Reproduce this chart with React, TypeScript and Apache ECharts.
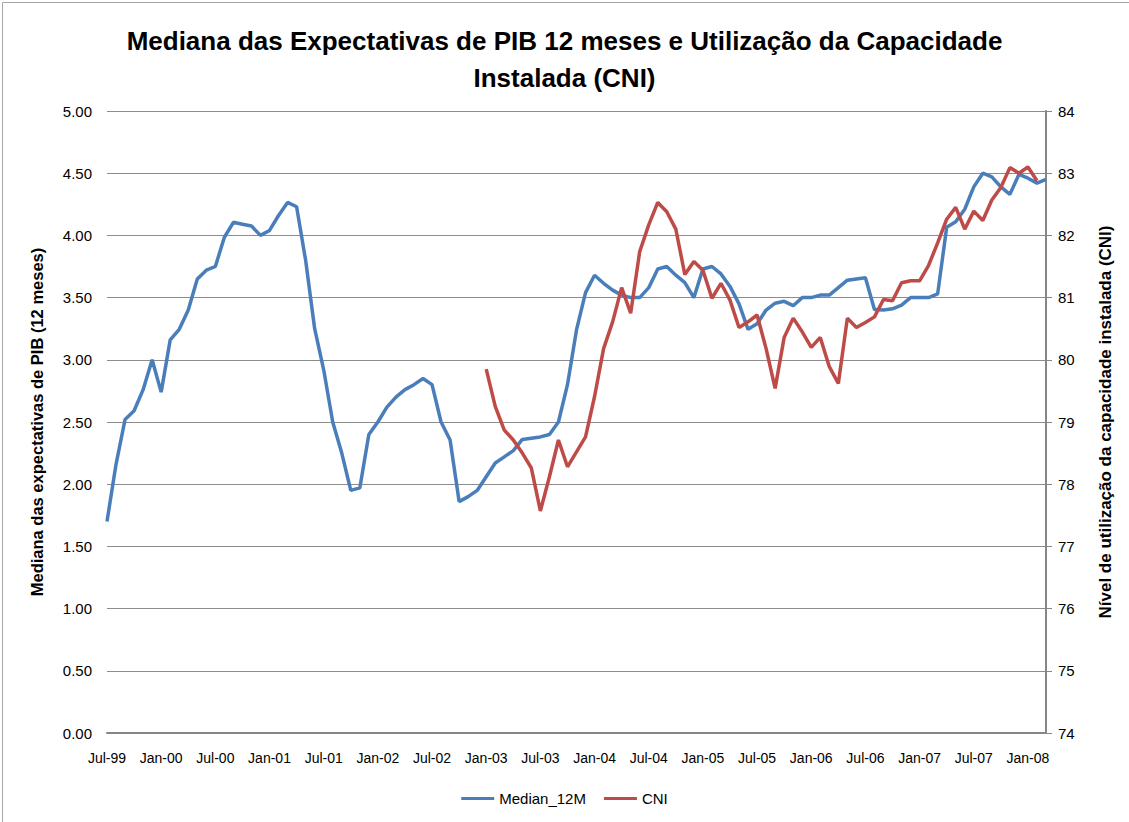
import React, { useEffect, useRef } from "react";
import * as echarts from "echarts";

const months: string[] = [
  "Jul-99","Aug-99","Sep-99","Oct-99","Nov-99","Dec-99",
  "Jan-00","Feb-00","Mar-00","Apr-00","May-00","Jun-00","Jul-00","Aug-00","Sep-00","Oct-00","Nov-00","Dec-00",
  "Jan-01","Feb-01","Mar-01","Apr-01","May-01","Jun-01","Jul-01","Aug-01","Sep-01","Oct-01","Nov-01","Dec-01",
  "Jan-02","Feb-02","Mar-02","Apr-02","May-02","Jun-02","Jul-02","Aug-02","Sep-02","Oct-02","Nov-02","Dec-02",
  "Jan-03","Feb-03","Mar-03","Apr-03","May-03","Jun-03","Jul-03","Aug-03","Sep-03","Oct-03","Nov-03","Dec-03",
  "Jan-04","Feb-04","Mar-04","Apr-04","May-04","Jun-04","Jul-04","Aug-04","Sep-04","Oct-04","Nov-04","Dec-04",
  "Jan-05","Feb-05","Mar-05","Apr-05","May-05","Jun-05","Jul-05","Aug-05","Sep-05","Oct-05","Nov-05","Dec-05",
  "Jan-06","Feb-06","Mar-06","Apr-06","May-06","Jun-06","Jul-06","Aug-06","Sep-06","Oct-06","Nov-06","Dec-06",
  "Jan-07","Feb-07","Mar-07","Apr-07","May-07","Jun-07","Jul-07","Aug-07","Sep-07","Oct-07","Nov-07","Dec-07",
  "Jan-08","Feb-08","Mar-08",
];

const median12M: number[] = [
  1.70, 2.16, 2.52, 2.59, 2.76, 3.00,
  2.74, 3.16, 3.245, 3.40, 3.65, 3.72, 3.75, 3.985, 4.105, 4.09, 4.075, 4.00,
  4.04, 4.16, 4.265, 4.23, 3.80, 3.25, 2.92, 2.50, 2.25, 1.95, 1.97, 2.40,
  2.50, 2.62, 2.70, 2.76, 2.80, 2.85, 2.80, 2.50, 2.355, 1.86, 1.90, 1.95,
  2.06, 2.17, 2.22, 2.27, 2.36, 2.37, 2.38, 2.40, 2.50, 2.80, 3.24, 3.54,
  3.68, 3.615, 3.56, 3.52, 3.50, 3.50, 3.58, 3.73, 3.75, 3.68, 3.62, 3.50,
  3.73, 3.75, 3.69, 3.59, 3.45, 3.245, 3.29, 3.40, 3.455, 3.47, 3.435, 3.50,
  3.50, 3.52, 3.52, 3.58, 3.64, 3.65, 3.66, 3.405, 3.40, 3.41, 3.44, 3.50,
  3.50, 3.50, 3.53, 4.065, 4.11, 4.21, 4.39, 4.50, 4.47, 4.39, 4.33, 4.49,
  4.46, 4.42, 4.45,
];

const cni: (number | null)[] = [
  null, null, null, null, null, null,
  null, null, null, null, null, null, null, null, null, null, null, null,
  null, null, null, null, null, null, null, null, null, null, null, null,
  null, null, null, null, null, null, null, null, null, null, null, null,
  79.85, 79.25, 78.87, 78.71, 78.50, 78.26, 77.57, 78.12, 78.71, 78.28, 78.52, 78.76,
  79.41, 80.18, 80.61, 81.16, 80.75, 81.74, 82.17, 82.53, 82.38, 82.10, 81.37, 81.58,
  81.44, 80.99, 81.23, 80.96, 80.52, 80.61, 80.72, 80.18, 79.54, 80.36, 80.67, 80.45,
  80.20, 80.36, 79.89, 79.62, 80.67, 80.52, 80.60, 80.69, 80.97, 80.95, 81.24, 81.27,
  81.27, 81.52, 81.88, 82.26, 82.45, 82.10, 82.39, 82.24, 82.57, 82.77, 83.09, 83.00,
  83.10, 82.88, null,
];

const seriesNames = ["Median_12M", "CNI"];
const titleText = "Mediana das Expectativas de PIB 12 meses e Utilização da Capacidade\nInstalada (CNI)";
const leftAxisName = "Mediana das expectativas de PIB (12 meses)";
const rightAxisName = "Nível de utilização da capacidade instalada (CNI)";

const FONT = "'Liberation Sans', Arial, sans-serif";

export default function App() {
  const ref = useRef<HTMLDivElement>(null);
  useEffect(() => {
    if (!ref.current) return;
    const chart = echarts.init(ref.current, undefined, { renderer: "svg" });
    chart.setOption({
      animation: false,
      backgroundColor: "#ffffff",
      textStyle: { fontFamily: FONT },
      title: {
        text: titleText,
        left: "center",
        top: 17,
        textStyle: {
          fontFamily: FONT,
          fontSize: 26,
          fontWeight: "bold",
          color: "#000",
          lineHeight: 37,
        },
      },
      graphic: [
        { type: "line", shape: { x1: 2.5, y1: 2.5, x2: 1129, y2: 2.5 }, style: { stroke: "#a6a6a6", lineWidth: 1 } },
        { type: "line", shape: { x1: 2.5, y1: 2.5, x2: 2.5, y2: 822 }, style: { stroke: "#a6a6a6", lineWidth: 1 } },
      ],
      legend: {
        bottom: 11,
        left: "center",
        icon: "rect",
        itemWidth: 33,
        itemHeight: 3,
        itemGap: 18,
        textStyle: { fontFamily: FONT, fontSize: 15, color: "#000" },
        data: seriesNames,
      },
      grid: { left: 107, right: 83, top: 111, bottom: 89, containLabel: false },
      xAxis: {
        type: "category",
        data: months,
        boundaryGap: false,
        axisLine: { show: true, lineStyle: { color: "#868686", width: 2 } },
        axisTick: { show: false },
        axisLabel: { interval: 5, margin: 18, fontFamily: FONT, fontSize: 14, color: "#000" },
        splitLine: { show: false },
      },
      yAxis: [
        {
          type: "value",
          min: 0,
          max: 5,
          interval: 0.5,
          position: "left",
          name: leftAxisName,
          nameLocation: "middle",
          nameRotate: 90,
          nameGap: 62,
          nameTextStyle: { fontFamily: FONT, fontSize: 16.5, fontWeight: "bold", color: "#000" },
          axisLine: { show: false },
          axisTick: { show: false },
          axisLabel: { margin: 15, fontFamily: FONT, fontSize: 15, color: "#000", formatter: (v: number) => v.toFixed(2) },
          splitLine: { show: true, lineStyle: { color: "#8c8c8c", width: 1 } },
        },
        {
          type: "value",
          min: 74,
          max: 84,
          interval: 1,
          position: "right",
          name: rightAxisName,
          nameLocation: "middle",
          nameRotate: 90,
          nameGap: 51,
          nameTextStyle: { fontFamily: FONT, fontSize: 17, fontWeight: "bold", color: "#000" },
          axisLine: { show: true, lineStyle: { color: "#868686", width: 2 } },
          axisTick: { show: true, inside: false, length: 6, lineStyle: { color: "#868686", width: 1 } },
          axisLabel: { margin: 12, fontFamily: FONT, fontSize: 15, color: "#000" },
          splitLine: { show: false },
        },
      ],
      series: [
        {
          name: seriesNames[0],
          type: "line",
          yAxisIndex: 0,
          data: median12M,
          symbol: "none",
          lineStyle: { color: "#4a7ebb", width: 3.5 },
          itemStyle: { color: "#4a7ebb" },
          z: 2,
        },
        {
          name: seriesNames[1],
          type: "line",
          yAxisIndex: 1,
          data: cni,
          symbol: "none",
          connectNulls: false,
          lineStyle: { color: "#be4b48", width: 3.5 },
          itemStyle: { color: "#be4b48" },
          z: 3,
        },
      ],
    });
    return () => chart.dispose();
  }, []);
  return (
    <div
      ref={ref}
      style={{ position: "fixed", left: 0, top: 0, width: 1129, height: 822, background: "#fff" }}
    />
  );
}
